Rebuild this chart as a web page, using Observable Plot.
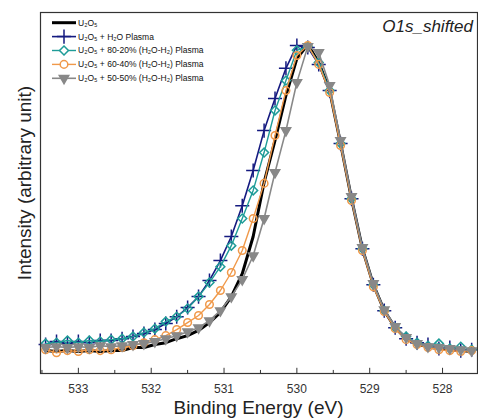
<!DOCTYPE html>
<html><head><meta charset="utf-8">
<script src="https://cdn.jsdelivr.net/npm/d3@7"></script>
<script src="https://cdn.jsdelivr.net/npm/@observablehq/plot@0.6"></script>
<style>body{margin:0;background:#fff}#chart{width:478px;height:419px}</style>
</head><body><div id="chart"></div>
<script>
// Binding energy grid (eV)
const energy = [533.45,533.30,533.15,533.00,532.85,532.70,532.55,532.40,532.25,532.10,
  531.95,531.80,531.65,531.50,531.35,531.20,531.05,530.90,530.75,530.60,
  530.45,530.30,530.15,530.00,529.85,529.70,529.55,529.40,529.25,529.10,
  528.95,528.80,528.65,528.50,528.35,528.20,528.05,527.90,527.75,527.60];

const u2o5 = [0,-0.3,0,-0.3,0,-0.3,0,0,1.0,1.0,2.0,2.6,3.9,4.9,6.6,9.2,12.5,17.7,25.2,37.4,
  55.1,68.9,83.6,95.7,100.3,94.4,85.2,67.9,49.8,33.4,21.6,13.1,7.5,3.9,2.0,1.3,0.7,0.3,0,-0.3];
const h2oPlasma = [2.0,3.0,2.3,3.0,2.6,3.3,3.3,3.9,4.6,5.6,6.9,8.9,11.1,14.1,17.7,23.0,29.5,37.4,47.5,59.0,
  72.1,82.6,92.5,100.0,99.3,93.8,85.2,67.9,49.8,33.4,21.6,13.1,7.5,3.9,2.6,2.0,0.7,1.0,0,0.3];
const plasma8020 = [2.3,2.6,3.3,2.6,3.3,3.0,3.6,3.9,4.6,5.9,7.2,9.5,11.1,13.8,17.7,22.3,27.5,34.4,43.3,52.5,
  64.9,78.7,88.5,98.4,99.7,94.4,85.2,67.9,49.8,33.4,21.6,13.1,7.5,4.6,2.6,1.6,2.3,0.7,1.3,0.3];
const plasma6040 = [0.3,-0.7,0,-0.3,0.3,0,0.3,1.0,1.6,2.6,3.6,4.9,6.9,9.2,11.5,15.1,19.7,25.6,32.8,43.3,
  54.8,70.5,85.2,96.7,100.0,93.8,84.6,67.2,49.2,32.8,20.9,12.8,7.2,3.6,2.0,1.0,0.3,0,-0.3,0];
const plasma5050 = [1.0,1.3,1.0,1.3,1.0,1.6,1.3,1.6,2.0,2.3,3.0,3.9,4.9,6.2,7.5,9.8,13.1,17.7,23.3,31.1,
  43.3,58.4,72.1,87.9,99.7,97.7,86.9,68.9,50.5,33.8,22.0,13.4,7.9,4.3,2.3,1.3,1.0,0.7,0.3,0];

const seriesNames = ["U₂O₅","U₂O₅ + H₂O Plasma","U₂O₅ + 80-20% (H₂O-H₂) Plasma","U₂O₅ + 60-40% (H₂O-H₂) Plasma","U₂O₅ + 50-50% (H₂O-H₂) Plasma"];
const seriesValues = [u2o5,h2oPlasma,plasma8020,plasma6040,plasma5050];
const majorTicks = [533,532,531,530,529,528];
const minorTicks = [533.5,532.5,531.5,530.5,529.5,528.5,527.5];

const styles = [
  {color:"#000000", symbol:null, width:3, r:0, fill:"none"},
  {color:"#151a80", symbol:"plus", width:1.6, r:4.6, fill:"none"},
  {color:"#1f9c98", symbol:"diamond2", width:1.4, r:4, fill:"none"},
  {color:"#f0994a", symbol:"circle", width:1.4, r:3.8, fill:"none"},
  {color:"#888888", symbol:"triangle", width:1.6, r:3.5, fill:"#888888"}
];

const yMin = -7.5, yMax = 110.8;
const marks = [];
seriesValues.forEach((vals, si) => {
  const data = energy.map((e,i)=>({e, v: vals[i]}));
  const s = styles[si];
  marks.push(Plot.line(data, {x:"e", y:"v", stroke:s.color, strokeWidth:s.width, curve:"linear"}));
  if (s.symbol) {
    marks.push(Plot.dot(data, {x:"e", y:"v", symbol:s.symbol, r:s.r, stroke:s.color,
      fill:s.fill, strokeWidth:1.5, rotate: s.symbol==="triangle"?180:0}));
  }
});
marks.push(Plot.ruleX(majorTicks, {x:d=>d, y1:yMin, y2:yMin+1.7, stroke:"#333", strokeWidth:1}));
marks.push(Plot.ruleX(minorTicks, {x:d=>d, y1:yMin, y2:yMin+1.0, stroke:"#333", strokeWidth:1}));
marks.push(Plot.axisX({ticks:majorTicks, tickSize:0, tickPadding:11, fontSize:12, label:null, tickFormat:d=>String(d), fill:"#333"}));
marks.push(Plot.frame({stroke:"#333", strokeWidth:1.2}));

const chart = Plot.plot({
  width:478, height:419,
  marginLeft:40, marginRight:1, marginTop:12, marginBottom:46,
  style:{fontFamily:"'Liberation Sans', Arial, sans-serif", background:"#fff"},
  x:{domain:[533.52,527.52], label:null},
  y:{domain:[yMin,yMax], axis:null},
  marks
});
document.getElementById("chart").appendChild(chart);

const svg = d3.select(chart);
const font = "'Liberation Sans', Arial, sans-serif";
svg.append("text").attr("x",258.5).attr("y",414).attr("text-anchor","middle")
  .attr("font-size",19).attr("font-family",font).attr("fill","#222").text("Binding Energy (eV)");
svg.append("text").attr("transform","translate(31,183) rotate(-90)").attr("text-anchor","middle")
  .attr("font-size",19).attr("font-family",font).attr("fill","#222").text("Intensity (arbitrary unit)");
svg.append("text").attr("x",473).attr("y",32).attr("text-anchor","end").attr("font-style","italic")
  .attr("font-size",17).attr("font-family",font).attr("fill","#222").text("O1s_shifted");

const symMap = {plus:d3.symbolPlus, diamond2:d3.symbolDiamond2, circle:d3.symbolCircle, triangle:d3.symbolTriangle};
const lg = svg.append("g");
seriesNames.forEach((name, i) => {
  const s = styles[i];
  const y = 22.7 + 13.9*i;
  lg.append("line").attr("x1",52).attr("x2",76).attr("y1",y).attr("y2",y)
    .attr("stroke",s.color).attr("stroke-width",s.width);
  if (s.symbol) {
    const p = d3.symbol(symMap[s.symbol], Math.PI*s.r*s.r)();
    lg.append("path").attr("d",p)
      .attr("transform",`translate(64,${y})` + (s.symbol==="triangle"?" rotate(180)":""))
      .attr("stroke",s.color).attr("stroke-width",1.5).attr("fill", s.fill==="none" ? "#fff" : s.fill);
  }
  lg.append("text").attr("x",78).attr("y",y).attr("dy","0.35em").attr("font-size",8.5)
    .attr("text-anchor","start")
    .attr("font-family",font).attr("fill","#111").text(name);
});
</script></body></html>
